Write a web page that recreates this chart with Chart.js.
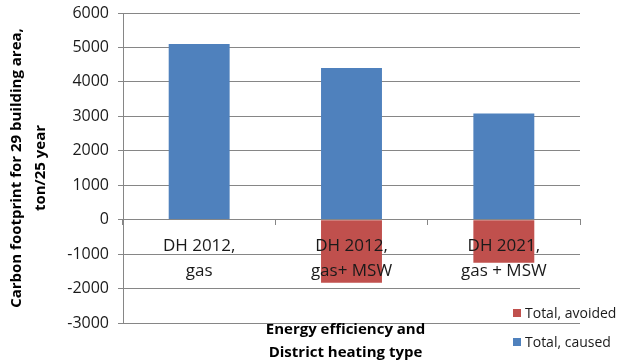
<!DOCTYPE html>
<html>
<head>
<meta charset="utf-8">
<script src="https://cdn.jsdelivr.net/npm/chart.js@4/dist/chart.umd.min.js"></script>
<style>
  html, body { margin: 0; padding: 0; background: #ffffff; }
  #wrap { width: 620px; height: 363px; }
</style>
</head>
<body>
<div id="wrap"><canvas id="chart" width="620" height="363"></canvas></div>
<script>
// Carbon footprint per district heating scenario (ton / 25 year)
const categories = [
  ["DH 2012,", "gas"],
  ["DH 2012,", "gas+ MSW"],
  ["DH 2021,", "gas + MSW"]
];
const causedValues = [5100, 4400, 3080];
const avoidedValues = [null, -1830, -1250];
const seriesNames = ["Total, caused", "Total, avoided"];
const seriesColors = ["#4F81BD", "#C0504D"];
const yMin = -3000;
const yMax = 6000;
const yStep = 1000;
const xAxisTitle = ["Energy efficiency and", "District heating type"];
const yAxisTitle = ["Carbon footprint for 29 building area,", "ton/25 year"];

const FONT = "'Open Sans', 'DejaVu Sans', sans-serif";
const AXIS_GREY = "#868686";
const TEXT = "#1a1a1a";

// Legend (reversed order, lower-right) and the horizontal axis title
const annotations = {
  id: "annotations",
  afterDraw(chart) {
    const ctx = chart.ctx;
    const area = chart.chartArea;
    ctx.save();

    // axis title below the plot
    ctx.fillStyle = "#000";
    ctx.font = "bold 15px " + FONT;
    ctx.textAlign = "center";
    ctx.textBaseline = "middle";
    const cx = (area.left + area.right) / 2 - 6;
    xAxisTitle.forEach((line, i) => ctx.fillText(line, cx, 330 + i * 23));

    // legend entries
    ctx.font = "14px " + FONT;
    ctx.textAlign = "left";
    const items = chart.data.datasets.slice().reverse();
    items.forEach((ds, i) => {
      const y = 313 + i * 29;
      ctx.fillStyle = ds.backgroundColor;
      ctx.fillRect(513, y - 4, 8, 8);
      ctx.fillStyle = TEXT;
      ctx.fillText(ds.label, 525, y + 1);
    });
    ctx.restore();
  }
};

new Chart(document.getElementById("chart"), {
  type: "bar",
  data: {
    labels: categories,
    datasets: [
      {
        label: seriesNames[0],
        data: causedValues,
        backgroundColor: seriesColors[0],
        categoryPercentage: 0.4,
        barPercentage: 1.0
      },
      {
        label: seriesNames[1],
        data: avoidedValues,
        backgroundColor: seriesColors[1],
        categoryPercentage: 0.4,
        barPercentage: 1.0
      }
    ]
  },
  options: {
    responsive: false,
    animation: false,
    layout: { padding: { top: 0, right: 40, bottom: 40, left: 0 } },
    plugins: {
      legend: { display: false },
      tooltip: { enabled: false }
    },
    scales: {
      x: {
        stacked: true,
        position: { y: 0 },
        grid: {
          offset: true,
          drawOnChartArea: false,
          drawTicks: true,
          tickLength: 5,
          color: AXIS_GREY
        },
        border: { display: true, color: AXIS_GREY, width: 1, z: 1 },
        ticks: {
          z: 1,
          color: TEXT,
          padding: 9,
          maxRotation: 0,
          autoSkip: false,
          font: { family: FONT, size: 17, lineHeight: 1.47 }
        }
      },
      y: {
        stacked: true,
        min: yMin,
        max: yMax,
        afterFit(scale) {
          scale.width = 123;
          scale.paddingTop = 13;
        },
        grid: {
          color: AXIS_GREY,
          tickLength: 5,
          drawTicks: true
        },
        border: { display: true, color: AXIS_GREY, width: 1 },
        ticks: {
          stepSize: yStep,
          color: TEXT,
          padding: 9,
          font: { family: FONT, size: 16 },
          callback: (value) => String(value)
        },
        title: {
          display: true,
          text: yAxisTitle,
          color: "#000",
          padding: { top: 5, bottom: 0 },
          font: { family: FONT, size: 15, weight: "bold", lineHeight: 1.6 }
        }
      }
    }
  },
  plugins: [annotations]
});
</script>
</body>
</html>
